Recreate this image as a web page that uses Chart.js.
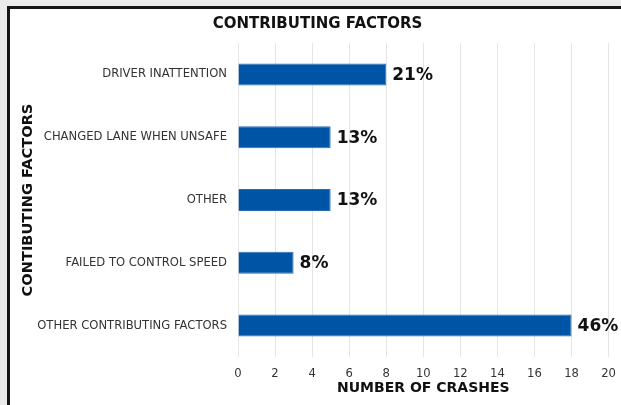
<!DOCTYPE html>
<html>
<head>
<meta charset="utf-8">
<script src="https://cdn.jsdelivr.net/npm/chart.js@4"></script>
<style>
  body { margin: 0; background: #ebebeb; overflow: hidden; }
  #frame {
    position: absolute; left: 7px; top: 6px; width: 700px; height: 500px;
    background: #fff; border-left: 3px solid #151515; border-top: 3px solid #151515;
  }
  #myChart { position: absolute; left: 0; top: 0; }
</style>
</head>
<body>
<div id="frame"><canvas id="myChart" width="616" height="396"></canvas></div>
<script>
const factors = ['DRIVER INATTENTION', 'CHANGED LANE WHEN UNSAFE', 'OTHER', 'FAILED TO CONTROL SPEED', 'OTHER CONTRIBUTING FACTORS']
const crashes = [8, 5, 5, 3, 18]
const shares = ['21%', '13%', '13%', '8%', '46%']

const fontFamily = '"DejaVu Sans", Verdana, sans-serif'

// draw the percent next to each bar
const shareLabels = {
  id: 'shareLabels',
  afterDatasetsDraw(chart) {
    const ctx = chart.ctx
    const meta = chart.getDatasetMeta(0)
    ctx.save()
    ctx.font = 'bold 17px ' + fontFamily
    ctx.fillStyle = '#111'
    ctx.textAlign = 'left'
    ctx.textBaseline = 'middle'
    meta.data.forEach((bar, i) => {
      ctx.fillText(shares[i], bar.x + 6, bar.y + 1)
    })
    ctx.restore()
  }
}

const data = {
  labels: factors,
  datasets: [{
    data: crashes,
    backgroundColor: '#0054a6',
    borderColor: '#2a6db5',
    borderWidth: 1,
    barPercentage: 0.7,
    categoryPercentage: 0.5
  }]
}

const config = {
  type: 'bar',
  data,
  options: {
    indexAxis: 'y',
    responsive: false,
    animation: false,
    layout: { padding: { left: 0, right: 1, top: 0, bottom: 0 } },
    scales: {
      x: {
        min: 0,
        max: 20,
        afterFit(scale) { scale.height = 48 },
        ticks: { stepSize: 2, color: '#333', font: { family: fontFamily, size: 11.6 }, padding: 10 },
        grid: { color: '#e4e4e4', drawTicks: false },
        border: { display: false },
        title: {
          display: true,
          text: 'NUMBER OF CRASHES',
          color: '#111',
          font: { family: fontFamily, size: 14, weight: 'bold' },
          padding: { top: 0, bottom: 8 }
        }
      },
      y: {
        afterFit(scale) { scale.width = 228 },
        ticks: { color: '#333', font: { family: fontFamily, size: 11.6 }, padding: 11 },
        grid: { display: false, drawTicks: false },
        border: { display: false },
        title: {
          display: true,
          text: 'CONTIBUTING FACTORS',
          color: '#111',
          font: { family: fontFamily, size: 14.6, weight: 'bold' },
          padding: { top: 9, bottom: 2 }
        }
      }
    },
    plugins: {
      legend: { display: false },
      tooltip: { enabled: false },
      title: {
        display: true,
        text: 'CONTRIBUTING FACTORS',
        color: '#111',
        font: { family: fontFamily, size: 15, weight: 'bold' },
        padding: { top: 6, bottom: 10 }
      }
    }
  },
  plugins: [shareLabels]
}

const myChart = new Chart(document.getElementById('myChart'), config)
</script>
</body>
</html>
